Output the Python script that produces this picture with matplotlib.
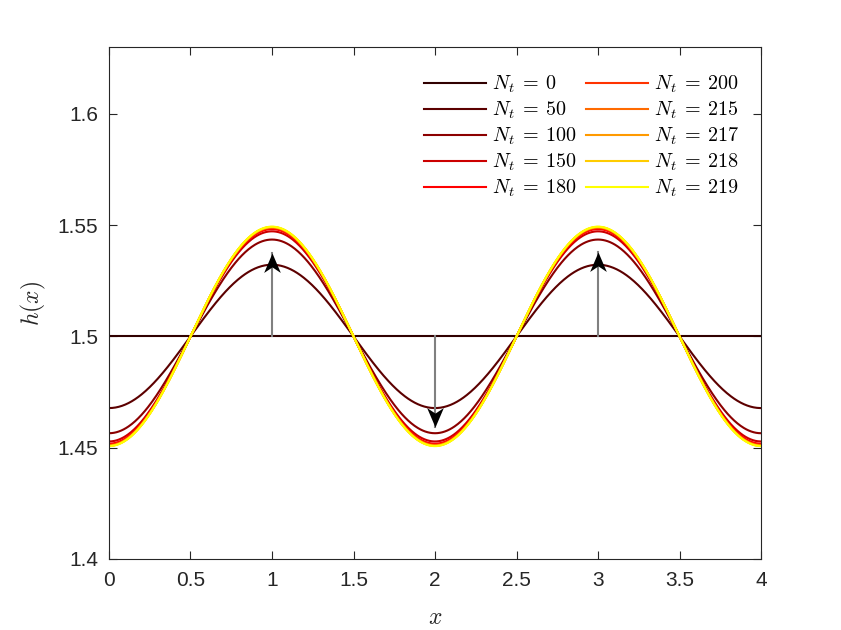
import numpy as np
import matplotlib
matplotlib.use("Agg")
from matplotlib import pyplot as plt
from matplotlib.path import Path

plt.rcParams['mathtext.fontset'] = 'cm'
plt.rcParams['font.family'] = ['Liberation Sans', 'DejaVu Sans']

# time steps shown in the legend and the wave amplitude
steps = [0, 50, 100, 150, 180, 200, 215, 217, 218, 219]
amplitudes = [0.0, 0.0322, 0.0435, 0.0472, 0.0482, 0.0487, 0.0490, 0.0491, 0.0492, 0.0493]
colors = ['#300000', '#5c0000', '#8c0000', '#cc0000', '#ff0000',
          '#ff3300', '#ff6a00', '#ff9a00', '#ffcc00', '#ffff00']
h_mean = 1.5

# arrows: x position, tip height
arrow_x = [1.0, 2.0, 3.0]
arrow_tip = [1.5375, 1.4595, 1.5380]

x = np.linspace(0, 4, 801)

fig = plt.figure(figsize=(8.41, 6.30), dpi=100)
ax = fig.add_axes([0.1296, 0.1127, 0.7753, 0.8127])

for n, a, c in zip(steps, amplitudes, colors):
    ax.plot(x, h_mean - a * np.cos(np.pi * x), color=c, lw=1.5,
            label=r'$N_t \:=\: %d$' % n)

#Arrow head with notched back, tip at the origin.
head_up = Path([(0, 0), (6, -14), (0, -10), (-6, -14), (0, 0)],
               [Path.MOVETO, Path.LINETO, Path.LINETO, Path.LINETO, Path.CLOSEPOLY])
head_down = Path([(0, 0), (6, 14), (0, 10), (-6, 14), (0, 0)],
                 [Path.MOVETO, Path.LINETO, Path.LINETO, Path.LINETO, Path.CLOSEPOLY])
for xa, tip in zip(arrow_x, arrow_tip):
    ax.plot([xa, xa], [h_mean, tip], color='#808080', lw=1.5, zorder=3)
    marker = head_up if tip > h_mean else head_down
    ax.plot([xa], [tip], marker=marker, markersize=28, color='k',
            markeredgewidth=0, zorder=4)

ax.set_xlim(0, 4)
ax.set_ylim(1.4, 1.63)
ax.set_xticks([0, 0.5, 1, 1.5, 2, 2.5, 3, 3.5, 4])
ax.set_xticklabels(['0', '0.5', '1', '1.5', '2', '2.5', '3', '3.5', '4'])
ax.set_yticks([1.4, 1.45, 1.5, 1.55, 1.6])
ax.set_yticklabels(['1.4', '1.45', '1.5', '1.55', '1.6'])
ax.tick_params(direction='in', length=6, width=0.8, top=True, right=True,
               labelsize=15, colors='#262626')
ax.tick_params(axis='x', pad=9)
ax.tick_params(axis='y', pad=8)
for s in ax.spines.values():
    s.set_color('#262626')
    s.set_linewidth(0.8)

ax.set_xlabel(r'$x$', fontsize=17, color='#262626', labelpad=12)
ax.set_ylabel(r'$h(x)$', fontsize=17, color='#262626', labelpad=7)

ax.legend(ncol=2, frameon=False, loc='upper left', bbox_to_anchor=(0.483, 0.948),
          fontsize=14.5, handlelength=3.1, handletextpad=0.3, columnspacing=0.45,
          labelspacing=0.23, borderpad=0, borderaxespad=0)

fig.savefig('out.png', dpi=100, facecolor='white')
